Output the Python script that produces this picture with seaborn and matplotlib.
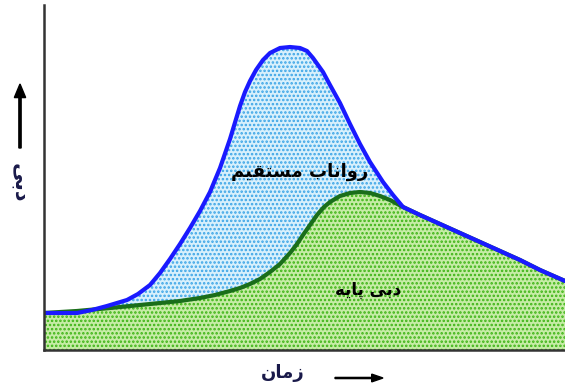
import numpy as np
import pandas as pd
import matplotlib
matplotlib.use("Agg")
import matplotlib.pyplot as plt
import seaborn as sns

# Time axis (arbitrary units) and discharge values
time_total = [0, 16, 33, 48, 63, 73, 83, 94, 106, 116, 126, 136, 146, 156, 166, 176,
              186, 196, 201, 206, 212, 219, 226, 236, 246, 256, 263, 269, 274, 279,
              286, 296, 306, 316, 326, 339, 349, 359, 376, 396, 416, 436, 456, 476,
              496, 521]
flow_total = [37, 37, 37, 40, 44, 47, 50, 56, 65, 77, 91, 106, 122, 139, 158, 182,
              211, 244, 258, 269, 280, 290, 297, 302, 303, 302, 299, 292, 285, 278,
              265, 247, 226, 206, 188, 168, 155, 143, 135, 126, 117, 108, 99, 90,
              80, 69]
time_base = [0, 33, 66, 106, 136, 156, 171, 186, 196, 206, 216, 226, 236, 246, 253,
             259, 266, 273, 280, 286, 296, 306, 316, 326, 336, 346, 359, 376, 396,
             416, 436, 456, 476, 496, 521]
flow_base = [37, 39, 42, 46, 49, 52, 55, 59, 62, 66, 71, 78, 86, 97, 106,
             115, 125, 135, 143, 148, 154, 157, 158, 157, 154, 150, 143, 135, 126,
             117, 108, 99, 90, 80, 69]

label_x = "ﻥﺎﻣﺯ"            # زمان
label_y = "ﯽﺑﺩ"             # دبی
label_runoff = "ﻢﯿﻘﺘﺴﻣ ﺏﺎﻧﺍﻭﺭ"   # رواناب مستقیم
label_base = "ﻪﯾﺎﭘ ﯽﺑﺩ"      # دبی پایه

sns.set_theme(style="white")
plt.rcParams['font.family'] = ['DejaVu Sans']
plt.rcParams['hatch.linewidth'] = 1.2

fig = plt.figure(figsize=(5.65, 3.88), dpi=100)
ax = fig.add_axes([44/565, 38/388, 521/565, 345/388])

df_t = pd.DataFrame({"t": time_total, "q": flow_total})
df_b = pd.DataFrame({"t": time_base, "q": flow_base})

# fills
base_on_total = np.interp(time_total, time_base, flow_base)
ax.fill_between(time_total, base_on_total, flow_total, facecolor="#d8f0fc",
                edgecolor="#3aa4e6", hatch="....", linewidth=0)
ax.fill_between(time_base, 0, flow_base, facecolor="#c6eca6",
                edgecolor="#3cb414", hatch="....", linewidth=0)

sns.lineplot(data=df_b, x="t", y="q", ax=ax, color="#1a6e1a", linewidth=3,
             sort=False, estimator=None, solid_joinstyle="round")
sns.lineplot(data=df_t, x="t", y="q", ax=ax, color="#1a1aff", linewidth=3,
             sort=False, estimator=None, solid_joinstyle="round")

ax.set_xlim(0, 521)
ax.set_ylim(0, 345)
ax.set_xticks([])
ax.set_yticks([])
ax.set_xlabel("")
ax.set_ylabel("")
for s in ["top", "right"]:
    ax.spines[s].set_visible(False)
for s in ["left", "bottom"]:
    ax.spines[s].set_color("#333333")
    ax.spines[s].set_linewidth(1.8)
    ax.spines[s].set_zorder(5)

ax.text(256, 178, label_runoff, ha="center", va="center", fontsize=13,
        fontweight="bold", color="black")
ax.text(324, 60, label_base, ha="center", va="center", fontsize=12,
        fontweight="bold", color="black")

fig.text(283/565, 1 - 373/388, label_x, ha="center", va="center", fontsize=13,
         fontweight="bold", color="#1a1a4a")
fig.text(20/565, 1 - 183/388, label_y, ha="center", va="center", fontsize=15,
         fontweight="bold", rotation=270, color="#1a1a4a")

fig.patches.append(matplotlib.patches.FancyArrow(
    335/565, 1 - 378/388, 48/565, 0, width=0.003, head_width=0.02,
    head_length=0.02, length_includes_head=True, color="black",
    transform=fig.transFigure))
fig.patches.append(matplotlib.patches.FancyArrow(
    20/565, 1 - 148/388, 0, 64/388, width=0.004, head_width=0.02,
    head_length=0.035, length_includes_head=True, color="black",
    transform=fig.transFigure))

fig.savefig("out.png", dpi=100)
